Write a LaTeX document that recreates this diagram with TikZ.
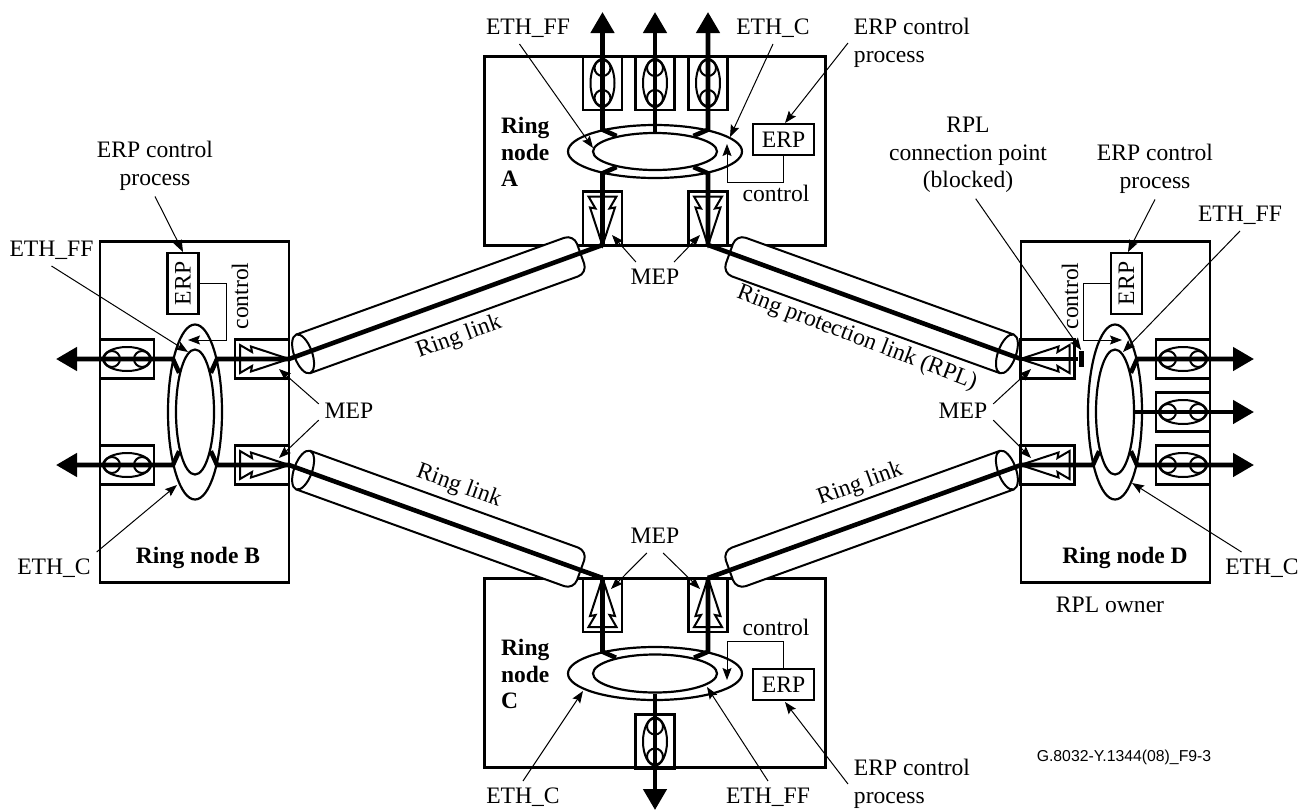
\documentclass[tikz,border=0pt]{standalone}
\usepackage{fontspec}
\setmainfont{Liberation Serif}
\setsansfont{Liberation Sans}
\usetikzlibrary{arrows.meta, shapes.geometric, calc}
\tikzset{
  every picture/.style={x=1pt, y=-1pt, line width=2pt},
  ringbox/.style={draw, inner sep=0pt, line width=2.4pt},
  ringouter/.style={ellipse, draw, inner sep=0pt, line width=2.2pt},
  frame/.style={draw, inner sep=0pt, minimum width=54pt, minimum height=39pt, line width=2.2pt, transform shape},
  erp/.style={draw, inner sep=0pt, minimum width=61pt, minimum height=31pt, line width=2.4pt, font=\fontsize{23.6}{24}\selectfont},
  feed/.style={line width=4.6pt},
  bigtip/.style={-{Triangle[length=21pt, width=23pt]}},
  leader/.style={-{Stealth[length=12pt, width=9pt, inset=2pt]}, line width=1pt},
  ctrl/.style={-{Stealth[length=12pt, width=9pt, inset=2pt]}, line width=1pt},
  lbl/.style={font=\fontsize{23.6}{24}\selectfont, inner sep=2pt, outer sep=4pt, text height=16pt, text depth=4pt},
  lblm/.style={font=\fontsize{23.6}{27.5}\selectfont, inner sep=2pt, outer sep=4pt, align=center},
  nodename/.style={font=\fontsize{23.5}{26.5}\selectfont\bfseries, inner sep=0pt, align=left},
  portmark/.pic={
    \node[frame] (-box) at (0,0) {};
    \draw (0,0) ellipse [x radius=24, y radius=12];
    \draw (-15,0) circle [radius=8] (15,0) circle [radius=8];
  },
  mepmark/.pic={
    \node[frame] (-box) at (0,0) {};
    \draw[line join=miter] (27,0) -- (-11,12.5) -- (-10,7) -- (-22,14) -- (-22,-14) -- (-10,-7) -- (-11,-12.5) -- cycle;
  },
  tube/.pic={
    \draw[fill=white, rounded corners=10pt] (0,-20.5) -- (295,-20.5) -- (295,20.5) -- (0,20.5);
    \draw[fill=white] (0,0) ellipse [x radius=9, y radius=20.5];
  },
}

\begin{document}
\begin{tikzpicture}
  \useasboundingbox (0,0) rectangle (1309,809);
  \node[ringbox, minimum width=341pt, minimum height=189pt] (boxA) at (655,151) {};
  \node[ringbox, minimum width=189pt, minimum height=341pt] (boxB) at (194.5,412) {};
  \node[ringbox, minimum width=341pt, minimum height=189pt] (boxC) at (655,673) {};
  \node[ringbox, minimum width=189pt, minimum height=341pt] (boxD) at (1115.5,412) {};

  \foreach \nm/\x/\y/\ow/\oh/\iw/\ih in {A/655/151.5/174/53/124/37, B/195/412/54/175/38/125,
                                          C/655/673.5/174/53/124/38, D/1115/412/54/175/38/125} {
    \node[ringouter, minimum width=\ow pt, minimum height=\oh pt] (outer\nm) at (\x,\y) {};
    \node[ringouter, minimum width=\iw pt, minimum height=\ih pt] (inner\nm) at (\x,\y) {};
  }

  \foreach \nm/\x/\y/\r in {portA1/602.5/83/90, portA2/655/83/90, portA3/708/83/90, portC/655/741.5/90,
                            portB1/127/359/0, portB2/127/465/0,
                            portD1/1183/359/0, portD2/1183/412/0, portD3/1183/465/0}
    \pic[rotate=\r] (\nm) at (\x,\y) {portmark};
  \foreach \nm/\x/\y/\r in {mepA1/602.5/218.5/-90, mepA2/708/218.5/-90, mepC1/602.5/605/90, mepC2/708/605/90,
                            mepB1/262/359/0, mepB2/262/465/0, mepD1/1047.5/359/180, mepD2/1047.5/465/180}
    \pic[rotate=\r] (\nm) at (\x,\y) {mepmark};

  % ends of the ring links and of the client arrows
  \foreach \nm/\x/\y in {tipAB/602.5/245, tipBA/289/359, tipAD/708/245, tipDA/1021/359,
                         tipBC/289/465, tipCB/602.5/578, tipCD/708/578, tipDC/1021/465,
                         outA1/602.5/12, outA2/655/12, outA3/708/12, outC/655/810,
                         outB1/56/359, outB2/56/465, outD1/1254/359, outD2/1254/412, outD3/1254/465}
    \coordinate (\nm) at (\x,\y);

  \foreach \a/\b/\r in {tipBA/tipAB/19.85, tipBC/tipCB/-19.85, tipDA/tipAD/160.15, tipDC/tipCD/199.85} {
    \pic[rotate=\r] at ($(\a)!15pt!(\b)$) {tube};
    \draw[feed] (\a) -- (\b);
  }

  \foreach \ang/\out in {158/outA1, 22/outA3}
    \draw[feed, bigtip] (innerA.\ang) -- (outerA.\ang -| \out) -- (\out);
  \draw[feed, bigtip] (innerA.north) -- (outA2);
  \foreach \ang/\tip in {202/tipAB, 338/tipAD}
    \draw[feed] (innerA.\ang) -- (outerA.\ang -| \tip) -- (\tip);
  \foreach \ang/\tip in {158/tipCB, 22/tipCD}
    \draw[feed] (innerC.\ang) -- (outerC.\ang -| \tip) -- (\tip);
  \draw[feed, bigtip] (innerC.south) -- (outC);
  \foreach \ang/\out in {112/outB1, 248/outB2}
    \draw[feed, bigtip] (innerB.\ang) -- (outerB.\ang |- \out) -- (\out);
  \foreach \ang/\tip in {68/tipBA, 292/tipBC}
    \draw[feed] (innerB.\ang) -- (outerB.\ang |- \tip) -- (\tip);
  \foreach \ang/\out in {68/outD1, 292/outD3}
    \draw[feed, bigtip] (innerD.\ang) -- (outerD.\ang |- \out) -- (\out);
  \draw[feed, bigtip] (innerD.east) -- (outD2);
  \draw[feed] (innerD.248) -- (outerD.248 |- tipDC) -- (tipDC);
  \node[fill=black, inner sep=0pt, minimum width=5pt, minimum height=16pt] (blockD) at (1081.5,359) {};
  \draw[feed] (tipDA) -- (blockD);

  \node[erp] (erpA) at (783.5,139.5) {ERP};
  \node[erp] (erpC) at (783.5,684.5) {ERP};
  \node[erp, rotate=90] (erpB) at (183,283.5) {ERP};
  \node[erp, rotate=90] (erpD) at (1126.5,283.5) {ERP};

  \foreach \nm/\x/\y in {ctlA/727/144, ctlB/188/340, ctlC/727/680, ctlD/1122/340}
    \coordinate (\nm) at (\x,\y);
  \draw[ctrl] (erpA.south) -- ++(0,26) -| (ctlA);
  \draw[ctrl] (erpC.north) -- ++(0,-26) -| (ctlC);
  \draw[ctrl] (erpB.south) -- ++(27,0) |- (ctlB);
  \draw[ctrl] (erpD.north) -- ++(-26,0) |- (ctlD);

  \node[lbl] (ctlLblA) at (776,195) {control};
  \node[lbl] (ctlLblC) at (776,629) {control};
  \node[lbl, rotate=90] (ctlLblB) at (242,296) {control};
  \node[lbl, rotate=90] (ctlLblD) at (1072,296) {control};

  \node[nodename, anchor=west] (nameA) at (500,152) {Ring\\node\\A};
  \node[nodename, anchor=west] (nameC) at (500,674) {Ring\\node\\C};
  \node[nodename] (nameB) at (198,558) {Ring node B};
  \node[nodename] (nameD) at (1125,558) {Ring node D};
  \node[lbl] (owner) at (1110,606) {RPL owner};

  \node[lbl] (ffA) at (528,28) {ETH\_FF};
  \node[lbl] (cA) at (773,28) {ETH\_C};
  \node[lbl] (ffB) at (51.5,250) {ETH\_FF};
  \node[lbl] (cB) at (54,568) {ETH\_C};
  \node[lbl] (cC) at (523,797) {ETH\_C};
  \node[lbl] (ffC) at (768,797) {ETH\_FF};
  \node[lbl] (ffD) at (1240,215) {ETH\_FF};
  \node[lbl] (cD) at (1262,568) {ETH\_C};
  \node[lbl] (mepA) at (655,278) {MEP};
  \node[lbl] (mepC) at (655,537) {MEP};
  \node[lbl] (mepB) at (349,412) {MEP};
  \node[lbl] (mepD) at (963,412) {MEP};
  \node[lblm, align=left] (procA) at (912,43) {ERP control\\process};
  \node[lblm] (procB) at (155,166) {ERP control\\process};
  \node[lblm, align=left] (procC) at (912,784) {ERP control\\process};
  \node[lblm] (procD) at (1155,169) {ERP control\\process};
  \node[lblm] (rpl) at (968,155) {RPL\\connection point\\(blocked)};

  \foreach \nm/\x/\y in {hitFFA/593/148, hitCA/730/137, hitErpA/785/123,
                         hitFFB/188/352, hitCB/177/485, hitErpB/183/252,
                         hitCC/583/691, hitFFC/707/687, hitErpC/785/702,
                         hitFFD/1123/352, hitCD/1132/483, hitErpD/1128/252, hitRpl/1081/350,
                         hitMepA1/612/235, hitMepA2/700/235, hitMepC1/611/589, hitMepC2/700/589,
                         hitMepB1/279/369, hitMepB2/279/458, hitMepD1/1031/369, hitMepD2/1031/458}
    \coordinate (\nm) at (\x,\y);
  \foreach \from/\to in {ffA.242/hitFFA, cA.south/hitCA, procA.west/hitErpA,
                         ffB.south/hitFFB, cB.north east/hitCB, procB.south/hitErpB,
                         cC.north/hitCC, ffC.north/hitFFC, procC.west/hitErpC,
                         ffD.south/hitFFD, cD.142/hitCD, procD.south/hitErpD, rpl.280/hitRpl,
                         mepA.140/hitMepA1, mepA.40/hitMepA2, mepC.243/hitMepC1, mepC.297/hitMepC2,
                         mepB.165/hitMepB1, mepB.195/hitMepB2, mepD.15/hitMepD1, mepD.-15/hitMepD2}
    \draw[leader] (\from) -- (\to);

  \node[lbl, rotate=20] (linkAB) at (459,337) {Ring link};
  \node[lbl, rotate=-20] (linkBC) at (459,486) {Ring link};
  \node[lbl, rotate=20] (linkCD) at (860,484) {Ring link};
  \node[lbl, rotate=-21] (linkDA) at (857,338) {Ring protection link (RPL)};
  \node[inner sep=0pt, font=\sffamily\fontsize{15.8}{18}\selectfont] (docref) at (1124,757) {G.8032-Y.1344(08)\_F9-3};
\end{tikzpicture}
\end{document}
